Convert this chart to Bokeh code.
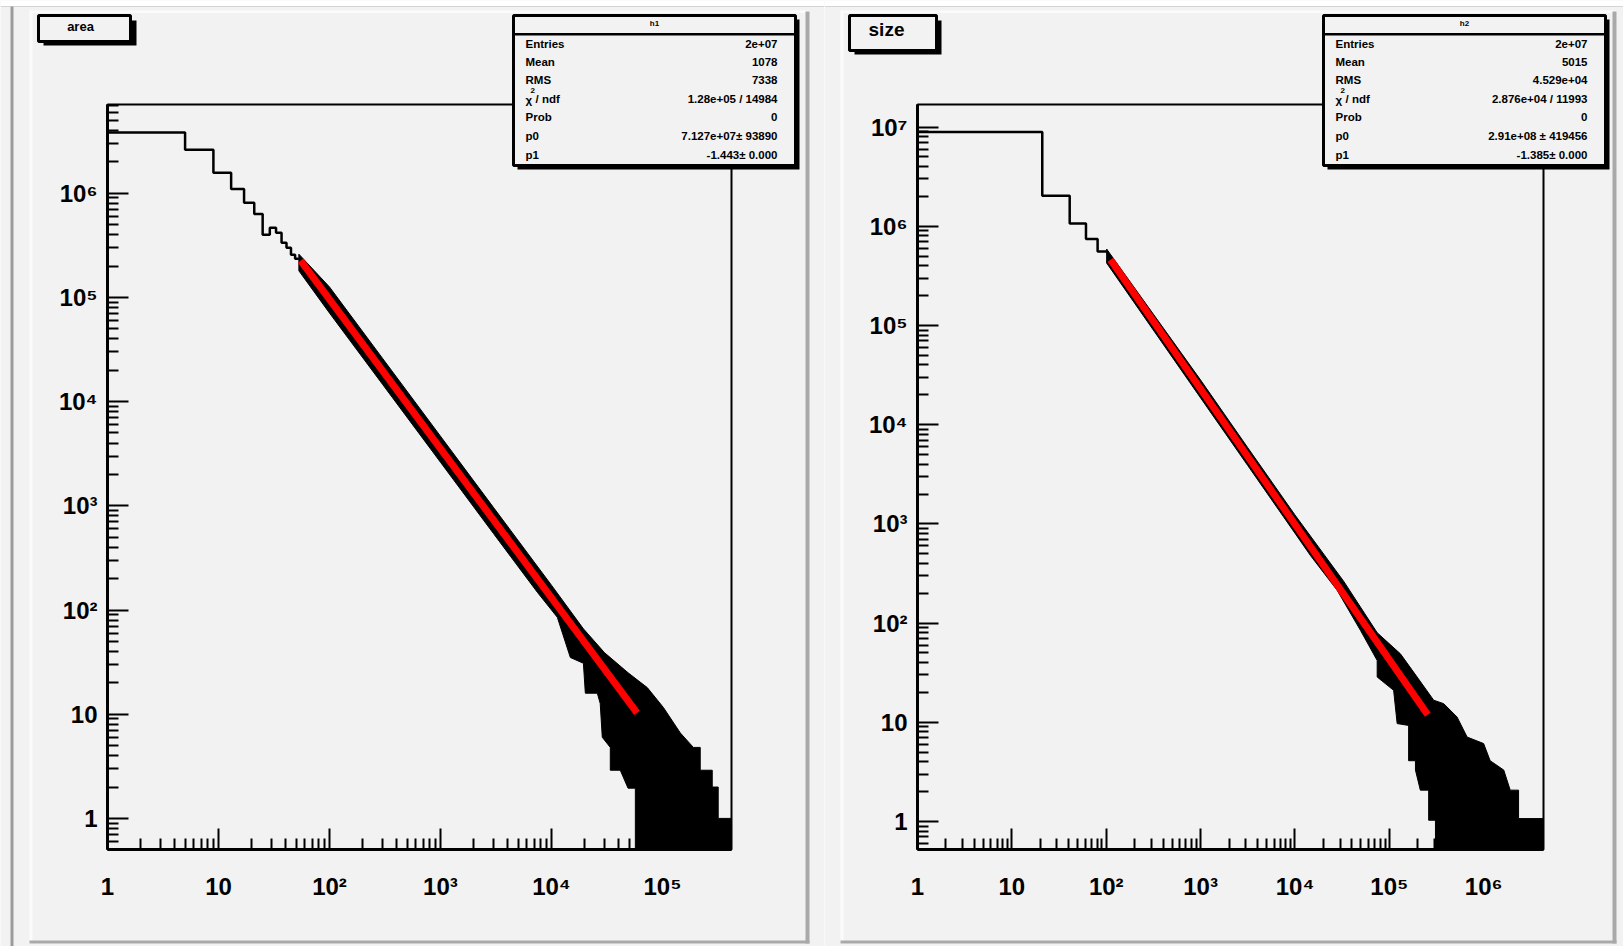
import math
from bokeh.plotting import figure
from bokeh.models import (Range1d, LinearScale, FixedTicker, CustomJSTickFormatter,
                          BoxAnnotation, Label)
from bokeh.layouts import row
from bokeh.embed import file_html
from bokeh.resources import INLINE

# ---------------- data ----------------
# left pad: histogram "area" (h1)
area_x_lim = [1, 4.19e5]
area_y_lim = [0.503, 7.1e6]
area_bin_edges = [1, 5, 9, 13, 17, 21, 25, 29, 33, 37, 41, 45, 49, 53]
area_bin_counts = [3.82e6, 2.61e6, 1.57e6, 1.10e6, 8.1e5, 6.3e5, 4.0e5, 4.66e5,
                   4.17e5, 3.34e5, 3.0e5, 2.57e5, 2.35e5]
# dense (many-bin) part, drawn as its upper / lower envelope
area_upper_x = [53, 100, 300, 1000, 3000, 1.0e4, 1.94e4, 3.0e4, 4.9e4, 7.3e4, 1.02e5,
                1.45e5, 1.9e5, 2.19e5, 2.19e5, 2.81e5, 2.81e5, 3.18e5, 3.18e5, 4.19e5]
area_upper_y = [2.6e5, 1.26e5, 2.61e4, 4.66e3, 966, 173, 66, 39, 25, 18, 11.6,
                6.6, 4.8, 4.8, 2.9, 2.9, 2.0, 2.0, 1.0, 1.0]
area_lower_x = [53, 100, 300, 1000, 3000, 4270, 7460, 1.13e4, 1.48e4, 1.94e4, 2.02e4,
                2.59e4, 2.75e4, 2.87e4, 3.39e4, 3.39e4, 4.17e4, 4.9e4, 5.7e4, 5.7e4, 4.19e5]
area_lower_y = [1.8e5, 7.08e4, 1.47e4, 2.62e3, 543, 328, 148, 85, 35, 30.8, 15.9,
                15.9, 12.7, 6.0, 4.8, 2.9, 2.9, 1.95, 1.95, 0.503, 0.503]
area_fit_x = [55, 5.9e4]
area_fit_y = [2.25e5, 10.3]

# right pad: histogram "size" (h2)
size_x_lim = [1, 4.3e6]
size_y_lim = [0.522, 1.69e7]
size_bin_edges = [1, 21, 41, 61, 81, 101]
size_bin_counts = [8.95e6, 2.03e6, 1.07e6, 7.43e5, 5.57e5]
size_upper_x = [101, 1000, 3162, 1.0e4, 3.29e4, 7.43e4, 1.31e5, 1.97e5, 2.95e5, 3.77e5,
                5.22e5, 6.67e5, 9.98e5, 1.17e6, 1.63e6, 1.91e6, 2.34e6, 2.34e6, 4.3e6]
size_upper_y = [5.9e5, 2.82e4, 5.86e3, 1.23e3, 263, 80, 49, 28.6, 16.7, 15.4,
                11.3, 7.1, 6.1, 4.1, 3.3, 2.07, 2.07, 1.07, 1.07]
size_lower_x = [101, 1000, 3162, 1.0e4, 1.46e4, 2.8e4, 4.94e4, 7.43e4, 7.43e4, 1.11e5,
                1.21e5, 1.6e5, 1.6e5, 1.89e5, 1.89e5, 2.13e5, 2.61e5, 2.61e5, 3.08e5,
                3.08e5, 4.3e6]
size_lower_y = [4.26e5, 1.86e4, 3.87e3, 805, 479, 214, 84.5, 42, 28.6, 21,
                9.7, 9.3, 4.1, 4.1, 3.3, 2.07, 2.07, 1.03, 1.03, 0.522, 0.522]
size_fit_x = [111, 2.55e5]
size_fit_y = [4.6e5, 11.9]

# stats boxes
stat_names = ["Entries", "Mean", "RMS", "chi2", "Prob", "p0", "p1"]
h1_values = ["2e+07", "1078", "7338", "1.28e+05 / 14984", "0", "7.127e+07\u00b1 93890",
             "-1.443\u00b1 0.000"]
h2_values = ["2e+07", "5015", "4.529e+04", "2.876e+04 / 11993", "0", "2.91e+08 \u00b1 419456",
             "-1.385\u00b1 0.000"]

# axis ticks
decades = [1, 10, 100, 1000, 1e4, 1e5, 1e6, 1e7]
minor_ticks = [m * 10.0 ** k for k in range(-1, 8) for m in range(2, 10)]

FONT = "Liberation Sans"
BG = "#f2f2f2"
PAGE_H = 946
FRAME_TOP, FRAME_BOTTOM = 104, 849

tick_code = """
const e = Math.round(Math.log10(tick));
const sup = ["\\u2070","\\u00b9","\\u00b2","\\u00b3","\\u2074","\\u2075","\\u2076","\\u2077","\\u2078","\\u2079"];
if (e === 0) return "1";
if (e === 1) return "10";
return "10" + sup[e];
"""


def make_pad(width, page_left, fl, fr, xlim, ylim, xticks, yticks):
    """fl/fr: page x of the ROOT frame edges; the Bokeh frame is the whole canvas."""
    H = PAGE_H
    lx0, lx1 = math.log10(xlim[0]), math.log10(xlim[1])
    dx = (fr - fl) / (lx1 - lx0)
    xr = Range1d(10 ** (lx0 - (fl - page_left) / dx), 10 ** (lx1 + (page_left + width - fr) / dx))
    ly0, ly1 = math.log10(ylim[0]), math.log10(ylim[1])
    dy = (FRAME_BOTTOM - FRAME_TOP) / (ly1 - ly0)
    yr = Range1d(10 ** (ly0 - (H - FRAME_BOTTOM) / dy), 10 ** (ly1 + FRAME_TOP / dy))
    p = figure(width=width, height=H, x_axis_type="log", y_axis_type="log",
               x_range=xr, y_range=yr, toolbar_location=None,
               output_backend="svg", title=None,
               min_border_left=0, min_border_right=0, min_border_top=0, min_border_bottom=0)
    p.background_fill_color = BG
    p.border_fill_color = BG
    p.outline_line_color = None
    p.grid.visible = False
    for ax, ticks, lim in ((p.xaxis[0], xticks, xlim), (p.yaxis[0], yticks, ylim)):
        ax.ticker = FixedTicker(ticks=ticks,
                                minor_ticks=[t for t in minor_ticks if lim[0] < t < lim[1]])
        ax.formatter = CustomJSTickFormatter(code=tick_code)
        ax.axis_line_color = "black"
        ax.axis_line_width = 3
        ax.major_tick_in = 21
        ax.major_tick_out = 0
        ax.minor_tick_in = 11
        ax.minor_tick_out = 0
        ax.major_tick_line_width = 2
        ax.minor_tick_line_width = 2
        ax.major_tick_line_color = "black"
        ax.minor_tick_line_color = "black"
        ax.major_label_text_font = FONT
        ax.major_label_text_font_style = "bold"
        ax.major_label_text_font_size = "24px"
        ax.major_label_text_color = "black"
    p.xaxis.fixed_location = ylim[0]
    p.xaxis.bounds = (xlim[0], xlim[1])
    p.yaxis.fixed_location = xlim[0]
    p.yaxis.bounds = (ylim[0], ylim[1])
    p.xaxis.major_label_standoff = 23
    p.yaxis.major_label_standoff = 10
    # page-pixel coordinate system for the pad decorations
    p.extra_x_ranges = {"px": Range1d(page_left, page_left + width)}
    p.extra_y_ranges = {"py": Range1d(H, 0)}
    p.extra_x_scales = {"px": LinearScale()}
    p.extra_y_scales = {"py": LinearScale()}
    return p


def box(p, x0, y0, x1, y1, fill, line=None, lw=0):
    p.add_layout(BoxAnnotation(left=x0, right=x1, top=y0, bottom=y1,
                               x_range_name="px", y_range_name="py",
                               fill_color=fill, fill_alpha=1.0 if fill else 0.0,
                               line_color=line, line_width=lw, line_alpha=1.0))


def label(p, x, y, text, size, align="left", style="bold"):
    p.add_layout(Label(x=x, y=y, x_range_name="px", y_range_name="py",
                       text=text, text_font=FONT, text_font_size=f"{size}px",
                       text_font_style=style, text_align=align, text_baseline="middle",
                       text_color="black"))


def draw_hist(p, edges, counts, ux, uy, lx, ly, fx, fy):
    sx, sy = [], []
    for i, c in enumerate(counts):
        sx += [edges[i], edges[i + 1]]
        sy += [c, c]
    p.patch(ux + lx[::-1], uy + ly[::-1], fill_color="black", line_color="black", line_width=1)
    p.line(sx, sy, line_color="black", line_width=2.5)
    p.line(fx, fy, line_color="#ff0000", line_width=7)


def stats_box(p, x0, x1, header, values):
    y0, y1 = 15, 165
    box(p, x0 + 4, y0 + 4, x1 + 4, y1 + 4, "black")
    box(p, x0, y0, x1, y1, BG, "black", 3)
    box(p, x0, 32.5, x1, 35, "black")
    label(p, (x0 + x1) / 2, 23, header, 8, align="center")
    rows_y = [43.3, 61, 79.5, 98, 116.8, 135.3, 154]
    tx = x0 + 12
    vx = x1 - 18
    for name, val, yy in zip(stat_names, values, rows_y):
        if name == "chi2":
            label(p, tx, yy + 1, "\u03c7", 11.5)
            label(p, tx + 5, yy - 8, "2", 8)
            label(p, tx + 10, yy, " / ndf", 11.5)
        else:
            label(p, tx, yy, name, 11.5)
        label(p, vx, yy, val, 11.5, align="right")


def bevel(p, xl, xr, canvas_l, canvas_r, gray_line=False):
    box(p, canvas_l, 0, canvas_r, 5.5, "#ffffff")
    box(p, canvas_l, 5.5, canvas_r, 6.5, "#d4d4d4")
    if gray_line:
        box(p, 10, 6, 13, PAGE_H, "#9b9b9b")
    box(p, xl, 10, xr, 12.5, "#fbfbfb")
    box(p, xl, 10, xl + 3, 943, "#fbfbfb")
    box(p, xr - 4, 11, xr, 943, "#a9a9a9")
    box(p, xl, 940, xr, 943, "#a9a9a9")


# ---------------- left pad ----------------
L_W = 824
p1 = make_pad(L_W, 0, 107, 731, area_x_lim, area_y_lim, decades[:6], decades[:7])
draw_hist(p1, area_bin_edges, area_bin_counts, area_upper_x, area_upper_y,
          area_lower_x, area_lower_y, area_fit_x, area_fit_y)
bevel(p1, 29, 809, 0, L_W, gray_line=True)
box(p1, 107, FRAME_TOP, 731, FRAME_BOTTOM, None, "black", 2)
box(p1, 43, 20, 136, 45, "black")
box(p1, 38, 15, 130, 41, BG, "black", 3)
label(p1, 80, 26, "area", 13, align="center")
stats_box(p1, 513, 795, "h1", h1_values)

# ---------------- right pad ----------------
R_W = 799
p2 = make_pad(R_W, L_W, 917, 1543, size_x_lim, size_y_lim, decades[:7], decades[:8])
draw_hist(p2, size_bin_edges, size_bin_counts, size_upper_x, size_upper_y,
          size_lower_x, size_lower_y, size_fit_x, size_fit_y)
bevel(p2, 840, 1616, L_W, L_W + R_W)
box(p2, 917, FRAME_TOP, 1543, FRAME_BOTTOM, None, "black", 2)
box(p2, 854, 20, 941, 54, "black")
box(p2, 849, 15, 936, 50, BG, "black", 3)
label(p2, 886, 29, "size", 19, align="center")
stats_box(p2, 1323, 1605, "h2", h2_values)

layout = row(p1, p2)
open("out.html", "w", encoding="utf-8").write(file_html(layout, INLINE))
